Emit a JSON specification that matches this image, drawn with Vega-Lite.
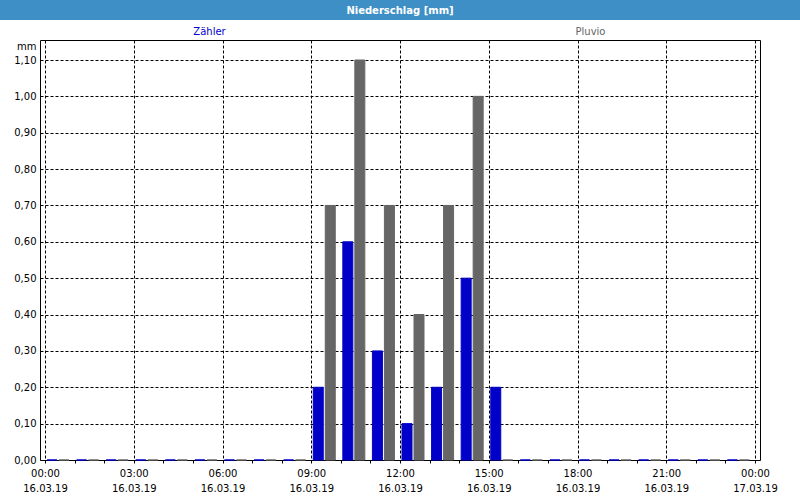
{
  "$schema": "https://vega.github.io/schema/vega-lite/v6.json",
  "padding": 0,
  "autosize": {"type": "pad"},
  "background": "#ffffff",
  "spacing": 0,
  "bounds": "flush",
  "center": true,
  "config": {
    "font": "DejaVu Sans",
    "locale": {"number": {"decimal": ",", "thousands": ".", "grouping": [3], "currency": ["", " €"]}}
  },
  "vconcat": [
    {
      "width": 800,
      "height": 20,
      "view": {"fill": "#3d8fc6", "stroke": null},
      "data": {"values": [{"title": "Niederschlag [mm]"}]},
      "mark": {"type": "text", "color": "#ffffff", "fontWeight": "bold", "fontSize": 10, "baseline": "middle", "dy": 1},
      "encoding": {"text": {"field": "title", "type": "nominal"}}
    },
    {
      "width": 800,
      "height": 20,
      "view": {"stroke": null},
      "data": {"values": [{"s": "Zähler"}, {"s": "Pluvio"}]},
      "mark": {"type": "text", "fontSize": 10, "baseline": "middle", "dy": 2},
      "encoding": {
        "x": {"field": "s", "type": "nominal", "scale": {"type": "point", "domain": ["Zähler", "Pluvio"], "padding": 0.55}, "axis": null},
        "text": {"field": "s", "type": "nominal"},
        "color": {"field": "s", "type": "nominal", "scale": {"domain": ["Zähler", "Pluvio"], "range": ["#0000c8", "#666666"]}, "legend": null}
      }
    },
    {
      "width": 720,
      "height": 420,
      "view": {"stroke": "#000000", "strokeWidth": 1, "fill": null},
      "data": {"values": [
        {"t": "2019-03-16T00:00:00Z", "s": "Zähler", "v": 0}, {"t": "2019-03-16T00:00:00Z", "s": "Pluvio", "v": 0},
        {"t": "2019-03-16T01:00:00Z", "s": "Zähler", "v": 0}, {"t": "2019-03-16T01:00:00Z", "s": "Pluvio", "v": 0},
        {"t": "2019-03-16T02:00:00Z", "s": "Zähler", "v": 0}, {"t": "2019-03-16T02:00:00Z", "s": "Pluvio", "v": 0},
        {"t": "2019-03-16T03:00:00Z", "s": "Zähler", "v": 0}, {"t": "2019-03-16T03:00:00Z", "s": "Pluvio", "v": 0},
        {"t": "2019-03-16T04:00:00Z", "s": "Zähler", "v": 0}, {"t": "2019-03-16T04:00:00Z", "s": "Pluvio", "v": 0},
        {"t": "2019-03-16T05:00:00Z", "s": "Zähler", "v": 0}, {"t": "2019-03-16T05:00:00Z", "s": "Pluvio", "v": 0},
        {"t": "2019-03-16T06:00:00Z", "s": "Zähler", "v": 0}, {"t": "2019-03-16T06:00:00Z", "s": "Pluvio", "v": 0},
        {"t": "2019-03-16T07:00:00Z", "s": "Zähler", "v": 0}, {"t": "2019-03-16T07:00:00Z", "s": "Pluvio", "v": 0},
        {"t": "2019-03-16T08:00:00Z", "s": "Zähler", "v": 0}, {"t": "2019-03-16T08:00:00Z", "s": "Pluvio", "v": 0},
        {"t": "2019-03-16T09:00:00Z", "s": "Zähler", "v": 0.2}, {"t": "2019-03-16T09:00:00Z", "s": "Pluvio", "v": 0.7},
        {"t": "2019-03-16T10:00:00Z", "s": "Zähler", "v": 0.6}, {"t": "2019-03-16T10:00:00Z", "s": "Pluvio", "v": 1.1},
        {"t": "2019-03-16T11:00:00Z", "s": "Zähler", "v": 0.3}, {"t": "2019-03-16T11:00:00Z", "s": "Pluvio", "v": 0.7},
        {"t": "2019-03-16T12:00:00Z", "s": "Zähler", "v": 0.1}, {"t": "2019-03-16T12:00:00Z", "s": "Pluvio", "v": 0.4},
        {"t": "2019-03-16T13:00:00Z", "s": "Zähler", "v": 0.2}, {"t": "2019-03-16T13:00:00Z", "s": "Pluvio", "v": 0.7},
        {"t": "2019-03-16T14:00:00Z", "s": "Zähler", "v": 0.5}, {"t": "2019-03-16T14:00:00Z", "s": "Pluvio", "v": 1.0},
        {"t": "2019-03-16T15:00:00Z", "s": "Zähler", "v": 0.2}, {"t": "2019-03-16T15:00:00Z", "s": "Pluvio", "v": 0},
        {"t": "2019-03-16T16:00:00Z", "s": "Zähler", "v": 0}, {"t": "2019-03-16T16:00:00Z", "s": "Pluvio", "v": 0},
        {"t": "2019-03-16T17:00:00Z", "s": "Zähler", "v": 0}, {"t": "2019-03-16T17:00:00Z", "s": "Pluvio", "v": 0},
        {"t": "2019-03-16T18:00:00Z", "s": "Zähler", "v": 0}, {"t": "2019-03-16T18:00:00Z", "s": "Pluvio", "v": 0},
        {"t": "2019-03-16T19:00:00Z", "s": "Zähler", "v": 0}, {"t": "2019-03-16T19:00:00Z", "s": "Pluvio", "v": 0},
        {"t": "2019-03-16T20:00:00Z", "s": "Zähler", "v": 0}, {"t": "2019-03-16T20:00:00Z", "s": "Pluvio", "v": 0},
        {"t": "2019-03-16T21:00:00Z", "s": "Zähler", "v": 0}, {"t": "2019-03-16T21:00:00Z", "s": "Pluvio", "v": 0},
        {"t": "2019-03-16T22:00:00Z", "s": "Zähler", "v": 0}, {"t": "2019-03-16T22:00:00Z", "s": "Pluvio", "v": 0},
        {"t": "2019-03-16T23:00:00Z", "s": "Zähler", "v": 0}, {"t": "2019-03-16T23:00:00Z", "s": "Pluvio", "v": 0}
      ]},
      "encoding": {
        "x": {
          "field": "t",
          "type": "temporal",
          "scale": {"type": "utc", "nice": false, "domain": [{"year": 2019, "month": 3, "date": 16, "utc": true}, {"year": 2019, "month": 3, "date": 17, "utc": true}]},
          "axis": {
            "title": null,
            "domain": false,
            "grid": true,
            "tickCount": 24,
            "tickSize": 3,
            "tickColor": "#000000",
            "gridColor": "#000000",
            "gridDash": [3, 2],
            "gridOpacity": {"condition": {"test": "utchours(datum.value) % 3 === 0", "value": 1}, "value": 0},
            "labelExpr": "utchours(datum.value) % 3 === 0 ? [utcFormat(datum.value, '%H:%M'), utcFormat(datum.value, '%d.%m.%y')] : ''",
            "labelOverlap": false,
            "labelBound": false,
            "labelFlush": false,
            "labelPadding": 5,
            "labelLineHeight": 15,
            "labelFontSize": 10,
            "labelColor": "#000000"
          }
        },
        "y": {
          "field": "v",
          "type": "quantitative",
          "scale": {"domain": [0, 1.155], "nice": false},
          "axis": {
            "title": "mm",
            "titleAngle": 0,
            "titleX": -4,
            "titleY": 6,
            "titleAlign": "right",
            "titleBaseline": "middle",
            "titleFontWeight": "normal",
            "titleFontSize": 10,
            "titleColor": "#000000",
            "tickCount": 12,
            "format": ".2f",
            "grid": true,
            "gridColor": "#000000",
            "gridDash": [3, 2],
            "gridOpacity": 1,
            "ticks": false,
            "domain": false,
            "labelPadding": 4,
            "labelFontSize": 10,
            "labelColor": "#000000"
          }
        },
        "color": {"field": "s", "type": "nominal", "scale": {"domain": ["Zähler", "Pluvio"], "range": ["#0000c8", "#666666"]}, "legend": null},
        "stroke": {"field": "s", "type": "nominal", "scale": {"domain": ["Zähler", "Pluvio"], "range": ["#0000c8", "#666666"]}, "legend": null}
      },
      "layer": [
        {
          "transform": [{"filter": "datum.s === 'Zähler'"}],
          "mark": {"type": "bar", "width": 10, "xOffset": 7, "strokeWidth": 1}
        },
        {
          "transform": [{"filter": "datum.s === 'Pluvio'"}],
          "mark": {"type": "bar", "width": 10, "xOffset": 19, "strokeWidth": 1}
        }
      ]
    }
  ]
}
